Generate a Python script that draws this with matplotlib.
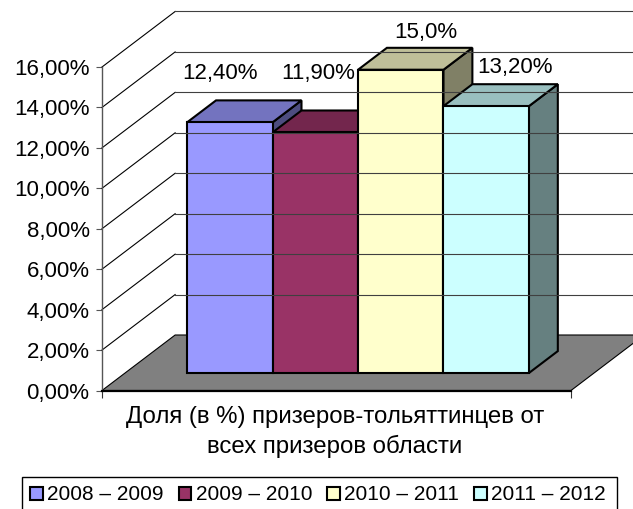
import matplotlib.pyplot as plt
from matplotlib.patches import Polygon, Patch, Rectangle
import numpy as np

plt.rcParams['font.family'] = ['Liberation Sans', 'DejaVu Sans']

# data
seasons = ['2008 – 2009', '2009 – 2010', '2010 – 2011', '2011 – 2012']
shares = [12.4, 11.9, 15.0, 13.2]
value_labels = ['12,40%', '11,90%', '15,0%', '13,20%']
yticks = [0, 2, 4, 6, 8, 10, 12, 14, 16]
ytick_labels = ['0,00%', '2,00%', '4,00%', '6,00%', '8,00%', '10,00%',
                '12,00%', '14,00%', '16,00%']
xlabel_lines = ['Доля (в %) призеров-тольяттинцев от', 'всех призеров области']
colors = ['#9999FF', '#993366', '#FFFFCC', '#CCFFFF']

# label offsets from the front top edge of each bar, pixels
label_offsets = [(-10, 43), (3, 53), (25, 32), (29, 33)]

# fake 3d: depth vector in data units, bars sit between f0 and f1 of the depth
DX, DY = 0.856, 2.745
f0, f1 = 0.315, 0.71
xmin, xmax = -0.727, 4.762

W, H = 633, 509
fig = plt.figure(figsize=(W / 100, H / 100), dpi=100)
ax = fig.add_axes([102 / W, (H - 390.5) / H, (571 - 102) / W, (390.5 - 67) / H])
ax.set_xlim(xmin, xmax)
ax.set_ylim(0, 16)


def shade(c, k):
    rgb = np.array(plt.matplotlib.colors.to_rgb(c))
    return tuple(rgb * k)


# walls: gridlines on the side and the back
for v in yticks[1:]:
    ax.plot([xmin, xmin + DX], [v, v + DY], color='black', lw=0.8, clip_on=False)
    ax.plot([xmin + DX, xmax + DX], [v + DY, v + DY], color='#404040', lw=0.8,
            clip_on=False)

# floor
floor = Polygon([(xmin, 0), (xmax, 0), (xmax + DX, DY), (xmin + DX, DY)],
                closed=True, facecolor='#808080', edgecolor='black', lw=0.8,
                clip_on=False)
ax.add_patch(floor)

# bars
for i, (h, c) in enumerate(zip(shares, colors)):
    x0, x1 = i, i + 1
    side = [(x1 + f0 * DX, f0 * DY), (x1 + f1 * DX, f1 * DY),
            (x1 + f1 * DX, h + f1 * DY), (x1 + f0 * DX, h + f0 * DY)]
    top = [(x0 + f0 * DX, h + f0 * DY), (x1 + f0 * DX, h + f0 * DY),
           (x1 + f1 * DX, h + f1 * DY), (x0 + f1 * DX, h + f1 * DY)]
    front = [(x0 + f0 * DX, f0 * DY), (x1 + f0 * DX, f0 * DY),
             (x1 + f0 * DX, h + f0 * DY), (x0 + f0 * DX, h + f0 * DY)]
    for pts, k in [(side, 0.5), (top, 0.75), (front, 1.0)]:
        ax.add_patch(Polygon(pts, closed=True, facecolor=shade(c, k),
                             edgecolor='black', lw=1.5, joinstyle='miter',
                             clip_on=False))
    ax.annotate(value_labels[i], xy=(i + 0.5 + f0 * DX, h + f0 * DY),
                xytext=label_offsets[i], textcoords='offset pixels',
                ha='center', va='baseline', fontsize=16, annotation_clip=False)

# axes styling
for s in ['top', 'right']:
    ax.spines[s].set_visible(False)
ax.spines['left'].set_color('#555555')
ax.spines['left'].set_linewidth(1.0)
ax.spines['bottom'].set_color('black')
ax.spines['bottom'].set_linewidth(1.6)
ax.set_yticks(yticks)
ax.set_yticklabels(ytick_labels, fontsize=16)
ax.tick_params(axis='y', direction='out', length=4, width=0.8,
               color='#555555', pad=5)
ax.set_xticks([xmin, xmax])
ax.set_xticklabels([])
ax.tick_params(axis='x', direction='out', length=5, width=0.8, color='#333333')
ax.patch.set_alpha(0)

fig.text(335 / W, 1 - 423 / H, xlabel_lines[0], ha='center', va='baseline',
         fontsize=17.3)
fig.text(335 / W, 1 - 453 / H, xlabel_lines[1], ha='center', va='baseline',
         fontsize=17.3)

# legend, box runs past the bottom edge like in the original
fig.patches.append(Rectangle((22 / W, 1 - 540 / H), 595 / W, 63 / H,
                             transform=fig.transFigure, facecolor='white',
                             edgecolor='black', lw=1.0))
handles = [Patch(facecolor=c, edgecolor='black', lw=1.5) for c in colors]
leg = fig.legend(handles, seasons, loc='center left', ncol=4,
                 bbox_to_anchor=(24 / W, 1 - 495 / H, 588 / W, 0), mode='expand',
                 fontsize=15, handlelength=0.6, handleheight=0.6,
                 handletextpad=0.2, borderpad=0.3, borderaxespad=0,
                 columnspacing=0.6, frameon=False)

plt.savefig('out.png', dpi=100)
